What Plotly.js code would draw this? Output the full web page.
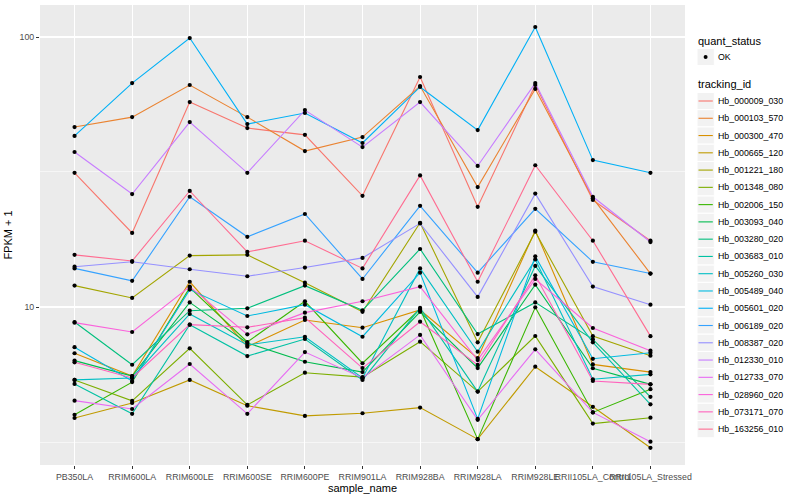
<!DOCTYPE html>
<html><head><meta charset="utf-8">
<script src="https://cdn.plot.ly/plotly-3.0.1.min.js"></script>
<style>html,body{margin:0;padding:0;background:#fff}#chart{width:800px;height:500px}</style>
</head><body><div id="chart"></div>
<script>
// Categories (x axis)
const samples = ["PB350LA","RRIM600LA","RRIM600LE","RRIM600SE","RRIM600PE","RRIM901LA",
  "RRIM928BA","RRIM928LA","RRIM928LE","RRII105LA_Control","RRII105LA_Stressed"];

// Series names (legend order)
const trackingIds = ["Hb_000009_030","Hb_000103_570","Hb_000300_470","Hb_000665_120","Hb_001221_180",
  "Hb_001348_080","Hb_002006_150","Hb_003093_040","Hb_003280_020","Hb_003683_010","Hb_005260_030",
  "Hb_005489_040","Hb_005601_020","Hb_006189_020","Hb_008387_020","Hb_012330_010","Hb_012733_070",
  "Hb_028960_020","Hb_073171_070","Hb_163256_010"];

// FPKM + 1 values, one array per tracking_id
const hb_000009_030 = [31.4, 18.8, 57.4, 46.0, 43.4, 25.8, 71.1, 23.5, 66.4, 24.9, 17.6];
const hb_000103_570 = [46.4, 50.5, 66.4, 50.5, 37.8, 42.6, 65.8, 27.8, 64.2, 25.3, 13.3];
const hb_000300_470 = [6.74, 5.55, 12.4, 7.13, 8.95, 8.38, 9.75, 6.47, 19.2, 6.13, 5.74];
const hb_000665_120 = [3.88, 4.41, 5.37, 4.31, 3.95, 4.04, 4.24, 3.24, 6.01, 4.27, 3.01];
const hb_001221_180 = [12.0, 10.8, 15.5, 15.6, 12.3, 9.6, 20.5, 7.4, 19.0, 7.8, 6.6];
const hb_001348_080 = [5.37, 4.49, 7.03, 4.34, 5.71, 5.50, 7.44, 4.86, 7.81, 3.70, 3.89];
const hb_002006_150 = [3.99, 5.27, 11.8, 7.42, 10.5, 6.19, 9.83, 3.24, 9.97, 4.07, 4.96];
const hb_003093_040 = [6.33, 5.55, 10.4, 7.36, 6.27, 5.74, 9.6, 5.94, 12.1, 5.93, 5.17];
const hb_003280_020 = [8.8, 6.11, 9.69, 9.89, 12.0, 9.72, 16.4, 7.94, 10.4, 7.59, 4.65];
const hb_003683_010 = [5.19, 4.02, 8.60, 6.58, 7.61, 5.37, 9.92, 4.86, 14.2, 7.40, 4.36];
const hb_005260_030 = [5.37, 5.46, 9.42, 7.23, 7.76, 5.46, 13.9, 6.83, 15.0, 5.40, 5.63];
const hb_005489_040 = [7.1, 5.32, 11.6, 9.26, 10.2, 7.76, 13.4, 3.85, 15.4, 6.43, 6.77];
const hb_005601_020 = [43.0, 67.5, 99.1, 47.6, 52.3, 40.5, 65.3, 45.2, 108.9, 35.0, 31.4];
const hb_006189_020 = [13.9, 12.5, 25.6, 18.2, 22.1, 12.7, 23.7, 13.4, 23.1, 14.7, 13.3];
const hb_008387_020 = [14.1, 14.7, 13.8, 13.0, 14.0, 15.2, 20.4, 10.9, 26.3, 11.9, 10.2];
const hb_012330_010 = [37.5, 26.2, 48.4, 31.4, 53.6, 39.1, 57.4, 33.3, 67.5, 25.6, 17.4];
const hb_012733_070 = [4.50, 4.19, 6.15, 4.02, 6.81, 5.46, 7.88, 3.82, 6.97, 4.07, 3.17];
const hb_028960_020 = [8.75, 8.08, 11.9, 7.92, 9.53, 10.5, 11.9, 6.36, 12.7, 8.36, 6.89];
const hb_073171_070 = [6.24, 5.46, 8.60, 8.41, 9.13, 5.94, 8.82, 6.10, 13.1, 5.32, 5.17];
const hb_163256_010 = [15.6, 14.8, 26.9, 16.0, 17.6, 13.9, 30.7, 12.4, 33.5, 17.6, 7.8];

const seriesValues = [hb_000009_030, hb_000103_570, hb_000300_470, hb_000665_120, hb_001221_180,
  hb_001348_080, hb_002006_150, hb_003093_040, hb_003280_020, hb_003683_010, hb_005260_030,
  hb_005489_040, hb_005601_020, hb_006189_020, hb_008387_020, hb_012330_010, hb_012733_070,
  hb_028960_020, hb_073171_070, hb_163256_010];

// Y tick labels
const yTickVals = [10, 100];
const yTickText = ["10", "100"];
const yMinorVals = [3.1623, 31.623];

const quantStatus = ["OK"];

// ggplot2 default hue palette for 20 levels
const colors = ["#F8766D","#EA8331","#D89000","#C09B00","#A3A500","#7CAE00","#39B600","#00BB4E",
  "#00BF7D","#00C1A3","#00BFC4","#00BAE0","#00B0F6","#35A2FF","#9590FF","#C77CFF","#E76BF3",
  "#FA62DB","#FF62BC","#FF6C91"];

const FONT = "Liberation Sans, Arial, Helvetica, sans-serif";

const traces = [];
trackingIds.forEach((id, i) => {
  traces.push({type:"scatter", mode:"lines", name:id, x:samples, y:seriesValues[i],
    line:{color:colors[i], width:1.1}, showlegend:false, hoverinfo:"x+y+name"});
});
trackingIds.forEach((id, i) => {
  traces.push({type:"scatter", mode:"markers", name:id, x:samples, y:seriesValues[i],
    marker:{color:"#000000", size:4.2}, showlegend:false, hoverinfo:"skip"});
});

// Plot panel geometry in pixels (for the hand-built ggplot-style legend)
const W = 800, H = 500, ML = 40, MR = 115, MT = 5, MB = 35;
const pw = W - ML - MR, ph = H - MT - MB;
const px = v => (v - ML) / pw;
const py = v => (H - MB - v) / ph;

const annotations = [];
const shapes = [];
function legendTitle(text, y) {
  annotations.push({xref:"paper", yref:"paper", x:px(696), y:py(y), xanchor:"left", yanchor:"middle",
    text:text, showarrow:false, font:{family:FONT, size:11, color:"#000000"}});
}
function keyBox(yc) {
  shapes.push({type:"rect", xref:"paper", yref:"paper", x0:px(697), x1:px(714.3), y0:py(yc-8.6), y1:py(yc+8.6),
    fillcolor:"#F2F2F2", line:{color:"#FFFFFF", width:1}, layer:"above"});
}
function keyLabel(text, yc) {
  annotations.push({xref:"paper", yref:"paper", x:px(716.5), y:py(yc), xanchor:"left", yanchor:"middle",
    text:text, showarrow:false, font:{family:FONT, size:8.8, color:"#000000"}});
}
legendTitle("quant_status", 40.7);
quantStatus.forEach((q, k) => {
  const yc = 57 + k * 17.27;
  keyBox(yc);
  shapes.push({type:"circle", xref:"paper", yref:"paper", x0:px(703.6), x1:px(707.6), y0:py(yc-2), y1:py(yc+2),
    fillcolor:"#000000", line:{width:0}, layer:"above"});
  keyLabel(q, yc);
});
legendTitle("tracking_id", 84);
trackingIds.forEach((id, i) => {
  const yc = 101 + i * 17.27;
  keyBox(yc);
  shapes.push({type:"line", xref:"paper", yref:"paper", x0:px(698.5), x1:px(712.8), y0:py(yc), y1:py(yc),
    line:{color:colors[i], width:1.1}, layer:"above"});
  keyLabel(id, yc);
});

const layout = {
  width: W, height: H,
  margin: {l:ML, r:MR, t:MT, b:MB, pad:0},
  paper_bgcolor: "#FFFFFF", plot_bgcolor: "#EBEBEB",
  font: {family:FONT, size:8.8, color:"#4D4D4D"},
  showlegend: false,
  xaxis: {type:"category", range:[-0.6, 10.6], showgrid:true, gridcolor:"#FFFFFF", gridwidth:1.1,
    zeroline:false, showline:false, ticks:"outside", ticklen:3, tickwidth:1, tickcolor:"#333333",
    tickangle:0, tickfont:{family:FONT, size:8.8, color:"#4D4D4D"}, fixedrange:true,
    title:{text:"sample_name", font:{family:FONT, size:11, color:"#000000"}, standoff:3}},
  yaxis: {type:"log", range:[0.4148, 2.1185], tickmode:"array", tickvals:yTickVals, ticktext:yTickText,
    showgrid:true, gridcolor:"#FFFFFF", gridwidth:1.1, zeroline:false, showline:false,
    ticks:"outside", ticklen:3, tickwidth:1, tickcolor:"#333333", fixedrange:true,
    tickfont:{family:FONT, size:8.8, color:"#4D4D4D"},
    minor:{tickmode:"array", tickvals:yMinorVals, showgrid:true, gridcolor:"#FFFFFF", gridwidth:0.55, ticks:""},
    title:{text:"FPKM + 1", font:{family:FONT, size:11, color:"#000000"}, standoff:4}},
  annotations: annotations,
  shapes: shapes
};

Plotly.newPlot("chart", traces, layout, {displayModeBar:false, staticPlot:true});
</script></body></html>
